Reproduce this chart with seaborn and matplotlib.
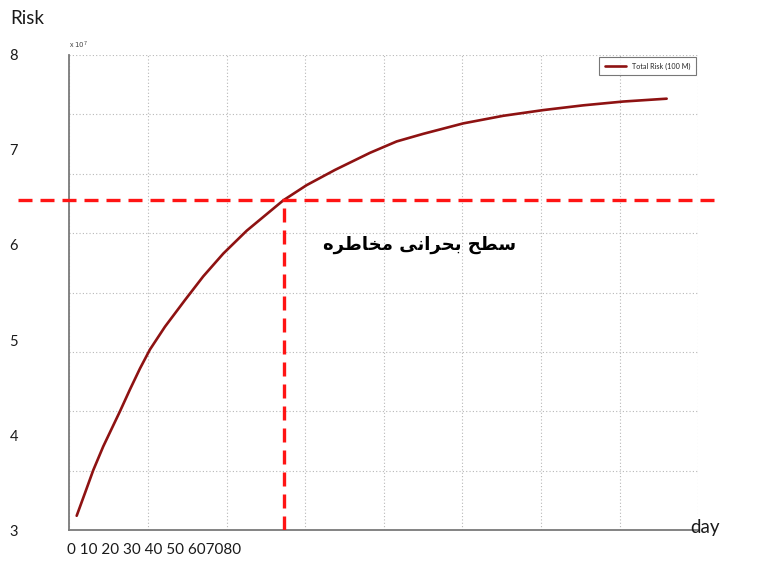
import numpy as np
import pandas as pd
import matplotlib
matplotlib.use('Agg')
import matplotlib.pyplot as plt
import seaborn as sns

# values
days = [0.94, 2.00, 3.05, 4.32, 6.45, 7.72, 8.99, 10.26, 12.17, 14.71, 17.04, 19.59,
        22.56, 27.22, 30.19, 33.79, 38.24, 41.64, 45.02, 50.11, 55.20, 60.29, 65.37,
        70.46, 75.98]
risk = [3.15, 3.39, 3.63, 3.88, 4.25, 4.48, 4.70, 4.90, 5.14, 5.42, 5.67, 5.91,
        6.15, 6.47, 6.63, 6.79, 6.97, 7.09, 7.17, 7.28, 7.36, 7.42, 7.47,
        7.51, 7.54]
crit_day = 27.3
crit_risk = 6.47
risk_ticks = [3, 4, 5, 6, 7, 8]
day_text = '0 10 20 30 40 50 607080'
series_name = 'Total Risk (100 M)'
label_fa = 'سطح بحرانی مخاطره'
# same words in presentation forms, visual order (matplotlib does no Arabic shaping / bidi)
label_fa_forms = '\uFEB3\uFEC4\uFEA2 \uFE91\uFEA4\uFEAE\uFE8D\uFEE7\uFEF0 \uFEE3\uFEA8\uFE8E\uFEC3\uFEAE\uFEE9'[::-1]

df = pd.DataFrame({'day': days, 'risk': risk})

sns.set_style('white')
plt.rcParams['font.family'] = ['Lato', 'DejaVu Sans']

fig = plt.figure(figsize=(7.75, 5.65), dpi=100)
ax = fig.add_axes([0.0894, 0.0619, 0.8116, 0.8408])

sns.lineplot(data=df, x='day', y='risk', ax=ax, color='#8e1212', lw=1.9,
             label=series_name, solid_joinstyle='round', solid_capstyle='round')

ax.set_xlim(0, 80)
ax.set_ylim(3, 8)

# matlab style grid + ticks, overlay labels on the y axis
ax.set_xticks(np.linspace(0, 80, 9))
ax.set_xticklabels([])
ax.set_yticks(np.linspace(3, 8, 9))
ax.set_yticklabels([])
ax.tick_params(axis='x', which='major', direction='in', length=8, width=1.1, color='#666666')
ax.tick_params(axis='y', which='major', direction='in', length=6, width=1.1, color='#666666')
ax.yaxis.remove_overlapping_locs = False
ax.set_yticks(risk_ticks, [str(v) for v in risk_ticks], minor=True)
ax.tick_params(axis='y', which='minor', length=0, pad=37, labelsize=10.5, labelcolor='#1a1a1a')
ax.grid(True, which='major', color='#b8b8b8', lw=0.8, linestyle=(0, (1, 2)))
ax.grid(False, which='minor')

for s in ['top', 'right']:
    ax.spines[s].set_visible(False)
for s in ['left', 'bottom']:
    ax.spines[s].set_color('#7a7a7a')
    ax.spines[s].set_linewidth(1.3)

ax.set_xlabel('')
ax.set_ylabel('')

# critical level
ax.axhline(crit_risk, xmin=-0.0816, xmax=1.031, color='#ff1414', lw=2.4,
           dashes=(4.2, 2.4), clip_on=False, zorder=5)
ax.vlines(crit_day, 3, crit_risk, color='#ff1414', lw=2.4,
          linestyles=[(0, (4.2, 2.4))], zorder=5)

ax.text(44.6, 6.0, label_fa_forms, fontsize=13, fontweight='bold',
        family=['DejaVu Sans'], ha='center', va='center', color='black')

leg = ax.legend(loc='upper right', fontsize=5.2, frameon=True, fancybox=False,
                handlelength=3.0, borderaxespad=0.3, borderpad=0.75)
leg.get_frame().set_edgecolor('#555555')
leg.get_frame().set_linewidth(0.8)

ax.text(0.0, 1.008, r'x $10^7$', transform=ax.transAxes, fontsize=5,
        color='#444444', ha='left', va='bottom')

fig.text(10 / 775, 1 - 18 / 565, 'Risk', fontsize=13.5, color='#1a1a1a',
         ha='left', va='center')
fig.text(690 / 775, 1 - 527 / 565, 'day', fontsize=13.5, color='#1a1a1a',
         ha='left', va='center')
fig.text(67 / 775, 1 - 550 / 565, day_text, fontsize=11, color='#1a1a1a',
         ha='left', va='center')

fig.savefig('out.png', dpi=100)
